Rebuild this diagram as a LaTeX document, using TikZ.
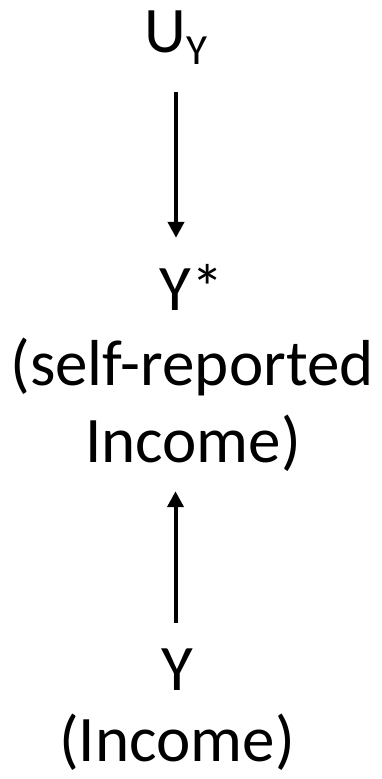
\documentclass[tikz,border=0pt]{standalone}
\usepackage{fontspec}
\setmainfont{Carlito}
\usetikzlibrary{arrows.meta}
\begin{document}
\begin{tikzpicture}[x=1pt,y=1pt,
  lbl/.style={inner sep=0pt,anchor=base,font=\fontsize{65}{78}\selectfont},
  arr/.style={line width=4pt,-{Triangle[width=16pt,length=16pt]}}]
\useasboundingbox (0,0) rectangle (382,-779);
% error term
\node[lbl,text height=42pt,text depth=13pt] (u) at (176,-52)
  {U\raisebox{-13pt}{\fontsize{43}{43}\selectfont Y}};
% self-reported income
\node[lbl,text height=42pt,text depth=0pt] (ystar) at (192,-310) {Y*};
\node[lbl] (sr) at (192,-385) {(self-reported};
\node[lbl,text height=42pt,text depth=14pt] (inc1) at (193,-462) {Income)};
% true income
\node[lbl,text height=42pt,text depth=0pt] (y) at (177,-690) {Y};
\node[lbl] (inc2) at (177,-761) {(Income)};
% causal arrows
\draw[arr,shorten <=27pt,shorten >=30pt] (u.south) -- (u.south |- ystar.north);
\draw[arr,shorten <=25pt,shorten >=15pt] ([xshift=-1.5pt]y.north) -- ([xshift=-1.5pt]y.north |- inc1.south);
\end{tikzpicture}
\end{document}
